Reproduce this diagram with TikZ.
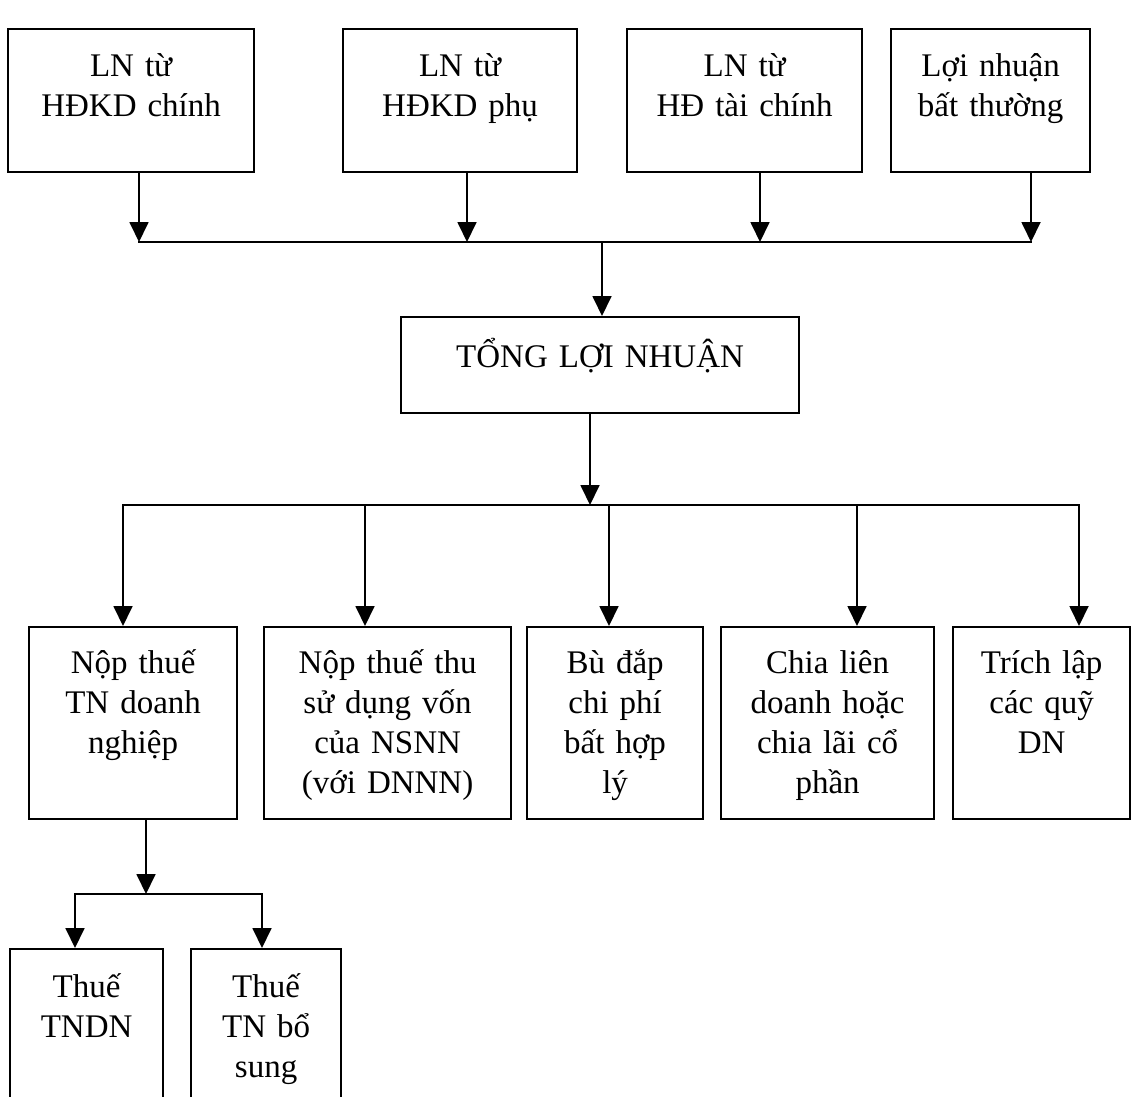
\documentclass[tikz,border=0pt]{standalone}
\usepackage{fontspec}
\setmainfont{Liberation Serif}
\usetikzlibrary{arrows.meta}

\begin{document}
\begin{tikzpicture}[x=1pt, y=-1pt,
  box/.style n args={3}{draw, line width=2.2pt, inner sep=0pt, anchor=north west, align=center, text width=#1, text height=#2, text depth=#3, font=\fontsize{33}{40}\selectfont},
  link/.style={line width=1.8pt, line cap=rect},
  arr/.style={line width=1.8pt, -{Triangle[width=19pt,length=20pt]}},
]
\useasboundingbox (0,0) rectangle (1132,1096);
\clip (0,0) rectangle (1132,1096);

% Sources of profit
\node[box={246pt}{47pt}{96pt}] (B1) at (7,28) {LN từ\\HĐKD chính};
\node[box={234pt}{47pt}{96pt}] (B2) at (342,28) {LN từ\\HĐKD phụ};
\node[box={235pt}{47pt}{96pt}] (B3) at (626,28) {LN từ\\HĐ tài chính};
\node[box={199pt}{47pt}{96pt}] (B4) at (890,28) {Lợi nhuận\\bất thường};

% Total
\node[box={398pt}{50pt}{46pt}] (TLN) at (400,316) {TỔNG LỢI NHUẬN};

% Uses of profit
\node[box={208pt}{46pt}{146pt}] (NT) at (28,626) {Nộp thuế\\TN doanh\\nghiệp};
\node[box={247pt}{46pt}{146pt}] (NTT) at (263,626) {Nộp thuế thu\\sử dụng vốn\\của NSNN\\(với DNNN)};
\node[box={176pt}{46pt}{146pt}] (BD) at (526,626) {Bù đắp\\chi phí\\bất hợp\\lý};
\node[box={213pt}{46pt}{146pt}] (CL) at (720,626) {Chia liên\\doanh hoặc\\chia lãi cổ\\phần};
\node[box={177pt}{46pt}{146pt}] (TL) at (952,626) {Trích lập\\các quỹ\\DN};

% Corporate income tax
\node[box={153pt}{48pt}{114pt}] (T1) at (9,948) {Thuế\\TNDN};
\node[box={150pt}{48pt}{114pt}] (T2) at (190,948) {Thuế\\TN bổ\\sung};

% Junctions
\coordinate (j1) at (139,242);
\coordinate (j2) at (467,242);
\coordinate (j3) at (760,242);
\coordinate (j4) at (1031,242);
\coordinate (j5) at (602,242);
\coordinate (k0) at (590,505);
\coordinate (k1) at (123,505);
\coordinate (k2) at (365,505);
\coordinate (k3) at (609,505);
\coordinate (k4) at (857,505);
\coordinate (k5) at (1079,505);
\coordinate (m0) at (146,894);
\coordinate (m1) at (75,894);
\coordinate (m2) at (262,894);

% Arrows
\foreach \j/\n in {j1/B1, j2/B2, j3/B3, j4/B4}
  \draw[arr] (\j |- \n.south) -- (\j);
\draw[link] (j1) -- (j4);
\draw[arr] (j5) -- (j5 |- TLN.north);

\draw[arr] (k0 |- TLN.south) -- (k0);
\draw[link] (k1) -- (k5);
\foreach \k/\n in {k1/NT, k2/NTT, k3/BD, k4/CL, k5/TL}
  \draw[arr] (\k) -- (\k |- \n.north);

\draw[arr] (m0 |- NT.south) -- (m0);
\draw[link] (m1) -- (m2);
\draw[arr] (m1) -- (m1 |- T1.north);
\draw[arr] (m2) -- (m2 |- T2.north);
\end{tikzpicture}
\end{document}
